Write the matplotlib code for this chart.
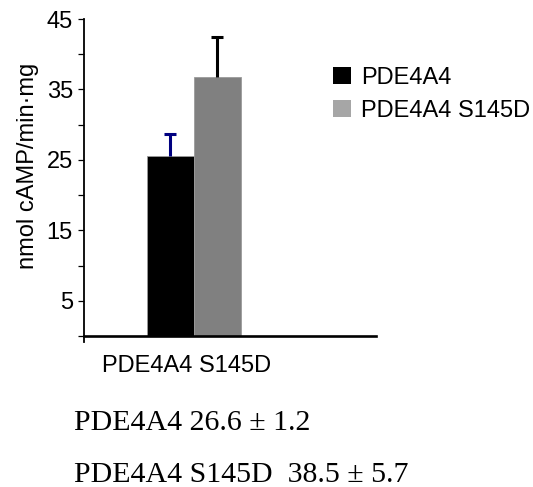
import matplotlib
matplotlib.use("Agg")
import matplotlib.pyplot as plt
from matplotlib.patches import Patch

# Enzyme activity of PDE4A4 and its S145D mutant
series = ["PDE4A4", "PDE4A4 S145D"]
activity = [25.6, 36.8]          # nmol cAMP/min·mg
activity_err = [3.1, 5.6]
bar_colors = ["#000000", "#808080"]
legend_colors = ["#000000", "#a6a6a6"]
stem_colors = ["#000080", "#000000"]
cap_colors = ["#000000", "#000080"]

group_label = "PDE4A4 S145D"
ytick_values = [0, 5, 10, 15, 20, 25, 30, 35, 40, 45]
ytick_labels = ["", "5", "", "15", "", "25", "", "35", "", "45"]
summary_lines = ["PDE4A4 26.6 \u00b1 1.2", "PDE4A4 S145D  38.5 \u00b1 5.7"]

W, H = 533, 487
fig = plt.figure(figsize=(W / 100, H / 100), dpi=100)
fig.patch.set_facecolor("white")

sans = "Liberation Sans"
serif = "Liberation Serif"

ax_left, ax_right, ax_top, ax_bottom = 84, 376, 19, 342
ax = fig.add_axes([ax_left / W, 1 - ax_bottom / H,
                   (ax_right - ax_left) / W, (ax_bottom - ax_top) / H])

bar_w = 1.0
first_center = 1.83
positions = [first_center + i * bar_w for i in range(len(series))]

bars = ax.bar(positions, activity, width=bar_w, color=bar_colors,
              edgecolor="#9a9a9a", linewidth=0.6, zorder=2)

# upper error bars only: hide the cap sitting on the bar top
for x, v, e, sc, cc in zip(positions, activity, activity_err, stem_colors, cap_colors):
    _, caps, stems = ax.errorbar([x], [v], yerr=[[0], [e]], fmt="none",
                                 ecolor=sc, elinewidth=2.2, capsize=4.3,
                                 capthick=2.2, zorder=3)
    for c in caps:
        c.set_color(cc)
        if abs(c.get_ydata()[0] - v) < 1e-9:
            c.set_visible(False)

ax.set_xlim(0, (ax_right - ax_left) / (bar_w * 47))
ax.set_ylim(-0.85, 45)

for s in ["top", "right"]:
    ax.spines[s].set_visible(False)
ax.spines["bottom"].set_position(("data", 0))
ax.spines["bottom"].set_linewidth(1.9)
ax.spines["left"].set_linewidth(1.3)

ax.set_yticks(ytick_values)
ax.set_yticklabels(ytick_labels, fontfamily=sans, fontsize=17)
ax.tick_params(axis="y", direction="out", length=4, width=0.9, pad=4)

group_center = first_center + 0.35
ax.set_xticks([group_center])
ax.set_xticklabels([group_label], fontfamily=sans, fontsize=17)
ax.tick_params(axis="x", length=0, pad=14)

fig.text(28 / W, 1 - 166 / H, "nmol cAMP/min\u00b7mg", rotation=90,
         ha="center", va="center", fontfamily=sans, fontsize=17)

handles = [Patch(facecolor=c, edgecolor="none") for c in legend_colors]
fig.legend(handles, series, loc="upper left",
           bbox_to_anchor=(333 / W, 1 - 67 / H), frameon=False,
           prop={"family": sans, "size": 17}, handlelength=0.76,
           handleheight=0.76, handletextpad=0.42, labelspacing=0.46,
           borderpad=0, borderaxespad=0)

fig.text(74 / W, 1 - 430 / H, summary_lines[0], ha="left", va="baseline",
         fontfamily=serif, fontsize=21.5)
fig.text(74 / W, 1 - 482 / H, summary_lines[1], ha="left", va="baseline",
         fontfamily=serif, fontsize=21.5)

fig.savefig("out.png", dpi=100, facecolor="white")
